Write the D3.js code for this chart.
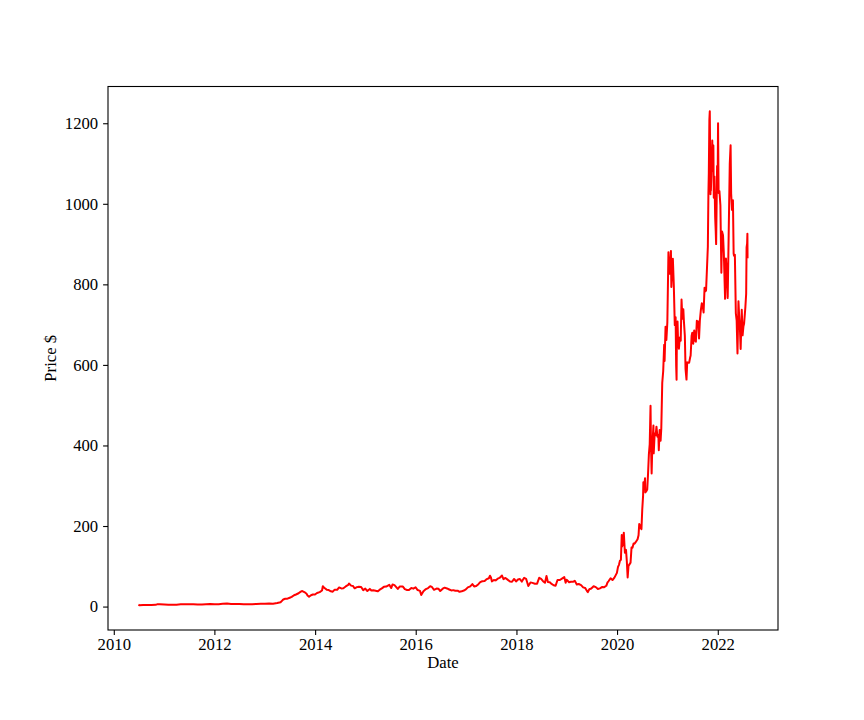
<!DOCTYPE html>
<html>
<head>
<meta charset="utf-8">
<script src="https://cdn.jsdelivr.net/npm/d3@7"></script>
<style>
  body { margin: 0; background: #fff; }
  svg text { font-family: "Liberation Serif", "Times New Roman", serif; }
</style>
</head>
<body>
<div id="chart"></div>
<script>
// closing prices (split-adjusted 5:1)
var dates = [
  "2010-06-29","2010-07-07","2010-08-02","2010-09-01","2010-10-01","2010-11-01","2010-11-15","2010-12-01",
  "2011-01-03","2011-02-01","2011-03-01","2011-04-01","2011-05-02","2011-06-01","2011-07-01","2011-08-01",
  "2011-09-01","2011-10-03","2011-11-01","2011-12-01","2012-01-03","2012-02-01","2012-03-01","2012-04-02",
  "2012-05-01","2012-06-01","2012-07-02","2012-08-01","2012-09-04","2012-10-01","2012-11-01","2012-12-03",
  "2013-01-02","2013-02-01","2013-03-01","2013-04-01","2013-04-25","2013-05-09","2013-05-15","2013-05-29",
  "2013-06-14","2013-07-01","2013-07-15","2013-08-01","2013-08-15","2013-09-03","2013-09-19","2013-09-30",
  "2013-10-15","2013-10-31","2013-11-07","2013-11-18","2013-12-02","2013-12-16","2013-12-31",
  "2014-01-15","2014-02-03","2014-02-20","2014-02-26","2014-03-10","2014-03-26","2014-04-10","2014-04-25",
  "2014-05-09","2014-05-23","2014-06-10","2014-06-24","2014-07-10","2014-07-25","2014-08-11","2014-08-29",
  "2014-09-04","2014-09-19","2014-10-03","2014-10-15","2014-10-31","2014-11-14","2014-12-01","2014-12-16",
  "2014-12-31","2015-01-15","2015-02-02","2015-02-13","2015-02-27","2015-03-16","2015-03-31","2015-04-15",
  "2015-04-30","2015-05-15","2015-06-01","2015-06-23","2015-07-07","2015-07-17","2015-07-31","2015-08-24",
  "2015-09-08","2015-09-30","2015-10-14","2015-10-30","2015-11-13","2015-11-30","2015-12-15","2015-12-31",
  "2016-01-15","2016-02-01","2016-02-10","2016-02-26","2016-03-15","2016-03-31","2016-04-15","2016-04-29",
  "2016-05-13","2016-05-31","2016-06-15","2016-06-27","2016-07-15","2016-07-29","2016-08-15","2016-08-31",
  "2016-09-15","2016-09-30","2016-10-14","2016-10-31","2016-11-14","2016-11-30","2016-12-15","2016-12-30",
  "2017-01-13","2017-01-31","2017-02-15","2017-02-28","2017-03-15","2017-03-31","2017-04-13","2017-04-28",
  "2017-05-15","2017-05-31","2017-06-15","2017-06-23","2017-06-30","2017-07-07","2017-07-21","2017-08-03",
  "2017-08-18","2017-08-31","2017-09-18","2017-09-29","2017-10-13","2017-10-31","2017-11-15","2017-11-30",
  "2017-12-15","2017-12-29","2018-01-12","2018-01-26","2018-02-09","2018-02-26","2018-03-12","2018-03-28",
  "2018-04-13","2018-04-27","2018-05-15","2018-05-31","2018-06-15","2018-06-29","2018-07-13","2018-07-27",
  "2018-08-07","2018-08-17","2018-08-31","2018-09-10","2018-09-28","2018-10-12","2018-10-26","2018-11-12",
  "2018-11-30","2018-12-14","2018-12-24","2018-12-31","2019-01-18","2019-01-31","2019-02-15","2019-02-28",
  "2019-03-15","2019-03-29","2019-04-15","2019-04-30","2019-05-15","2019-05-31","2019-06-03","2019-06-14",
  "2019-06-28","2019-07-15","2019-07-31","2019-08-15","2019-08-30","2019-09-16","2019-09-30","2019-10-15",
  "2019-10-24","2019-10-31","2019-11-15","2019-11-29","2019-12-13","2019-12-31",
  "2020-01-08","2020-01-15","2020-01-22","2020-01-29","2020-02-04","2020-02-07","2020-02-14","2020-02-19",
  "2020-02-27","2020-03-06","2020-03-12","2020-03-18","2020-03-24","2020-03-31","2020-04-08","2020-04-15",
  "2020-04-22","2020-04-30","2020-05-07","2020-05-15","2020-05-22","2020-05-29","2020-06-05","2020-06-10",
  "2020-06-18","2020-06-26","2020-07-02","2020-07-08","2020-07-10","2020-07-13","2020-07-17","2020-07-22",
  "2020-07-24","2020-07-31","2020-08-07","2020-08-13","2020-08-19","2020-08-25","2020-08-31","2020-09-03",
  "2020-09-08","2020-09-11","2020-09-17","2020-09-21","2020-09-23","2020-09-30","2020-10-07","2020-10-13",
  "2020-10-20","2020-10-27","2020-10-30","2020-11-05","2020-11-12","2020-11-17","2020-11-24","2020-12-01",
  "2020-12-08","2020-12-11","2020-12-18","2020-12-24","2020-12-31",
  "2021-01-08","2021-01-12","2021-01-15","2021-01-22","2021-01-26","2021-01-29","2021-02-05","2021-02-09",
  "2021-02-16","2021-02-23","2021-03-01","2021-03-05","2021-03-08","2021-03-10","2021-03-15","2021-03-19",
  "2021-03-25","2021-03-31","2021-04-07","2021-04-13","2021-04-19","2021-04-26","2021-04-30","2021-05-07",
  "2021-05-12","2021-05-19","2021-05-24","2021-06-01","2021-06-07","2021-06-14","2021-06-18","2021-06-25",
  "2021-06-30","2021-07-07","2021-07-14","2021-07-20","2021-07-26","2021-08-02","2021-08-06","2021-08-12",
  "2021-08-18","2021-08-24","2021-08-31","2021-09-07","2021-09-14","2021-09-20","2021-09-27","2021-10-04",
  "2021-10-08","2021-10-15","2021-10-21","2021-10-25","2021-10-28","2021-11-01","2021-11-04","2021-11-09",
  "2021-11-10","2021-11-12","2021-11-17","2021-11-22","2021-11-26","2021-11-30","2021-12-03","2021-12-08",
  "2021-12-13","2021-12-17","2021-12-20","2021-12-27","2021-12-31",
  "2022-01-03","2022-01-04","2022-01-07","2022-01-13","2022-01-20","2022-01-27","2022-02-01","2022-02-08",
  "2022-02-14","2022-02-23","2022-03-01","2022-03-08","2022-03-14","2022-03-21","2022-03-29","2022-04-04",
  "2022-04-08","2022-04-14","2022-04-21","2022-04-26","2022-04-29","2022-05-05","2022-05-12","2022-05-18",
  "2022-05-24","2022-05-31","2022-06-06","2022-06-10","2022-06-16","2022-06-24","2022-06-30","2022-07-06",
  "2022-07-11","2022-07-15","2022-07-20","2022-07-26","2022-07-29","2022-08-02","2022-08-04","2022-08-05"
];

var prices = [
  4.78,3.16,4.0,4.2,4.1,4.3,6.0,6.0,
  5.3,4.8,4.6,4.8,5.6,5.8,5.8,5.5,
  5.0,5.3,6.0,6.4,5.6,6.0,7.0,7.4,
  6.6,6.2,6.2,5.6,5.8,5.9,6.4,6.8,
  7.0,7.6,7.0,8.7,10.6,15.5,17.5,19.3,
  19.6,22.0,24.0,28.0,30.0,33.0,37.0,38.6,
  36.0,31.7,27.5,24.5,28.0,30.0,30.0,
  33.7,36.0,40.0,50.6,46.0,42.0,41.0,38.0,
  37.0,42.0,41.5,47.5,45.0,45.6,50.0,53.8,
  57.2,52.0,51.0,45.3,48.3,49.0,48.5,40.9,
  44.5,38.6,43.9,40.0,40.6,39.2,37.8,41.9,
  45.2,49.0,49.8,54.0,46.0,55.0,53.3,43.7,
  50.0,49.7,43.3,41.2,41.2,46.1,44.5,48.0,
  41.0,39.0,28.7,38.0,43.5,45.9,50.5,48.0,
  41.6,44.6,44.0,38.6,44.3,47.0,45.0,42.4,
  40.0,40.8,39.2,39.5,36.6,37.8,39.8,42.7,
  47.7,50.3,55.9,49.9,51.0,55.7,60.7,62.8,
  63.5,68.2,70.3,76.5,72.2,62.5,65.9,65.0,
  69.2,71.1,77.0,68.2,71.1,66.2,62.3,61.6,
  68.6,62.3,67.2,68.5,62.0,71.5,69.0,51.1,
  60.0,58.8,56.8,56.8,71.5,68.6,63.0,59.0,
  75.9,61.1,60.3,57.0,52.9,51.6,66.0,66.0,
  70.1,73.2,59.0,66.6,60.5,61.4,61.4,63.9,
  55.0,56.0,53.4,47.7,46.0,37.0,35.8,43.0,
  44.7,50.3,48.3,43.5,45.1,48.8,48.2,51.6,
  59.9,62.7,70.4,65.9,71.9,83.7,
  98.4,103.7,113.9,116.2,177.4,149.0,160.0,183.5,
  133.6,140.7,112.1,72.2,101.0,104.8,109.1,146.4,
  146.0,156.4,156.0,159.8,163.4,167.0,177.1,205.0,
  200.2,191.9,241.7,275.6,308.9,299.4,300.2,318.5,
  283.4,286.2,290.5,330.0,378.0,402.8,498.3,407.0,
  330.2,372.7,423.4,449.4,380.4,429.0,425.3,446.7,
  421.9,424.7,388.0,438.1,411.8,441.6,555.4,584.8,
  649.9,609.9,695.0,661.8,705.7,
  880.0,849.4,826.2,846.6,883.1,793.5,852.2,863.4,
  796.2,698.8,718.4,597.9,563.0,668.1,707.9,654.9,
  640.4,667.9,660.0,762.3,714.6,738.2,709.4,672.4,
  589.9,563.5,606.4,605.1,605.1,617.7,623.3,671.9,
  679.7,652.8,685.7,660.5,657.6,709.7,699.1,707.8,
  665.7,710.4,735.7,752.9,744.5,730.2,791.4,782.8,
  785.5,843.0,894.0,1024.9,1077.0,1208.6,1229.9,1023.5,
  1067.9,1033.4,1089.0,1156.9,1081.9,1144.8,1014.9,1068.0,
  966.4,932.6,899.9,1093.9,1056.8,
  1199.8,1149.6,1026.9,1031.6,996.3,829.1,931.3,922.0,
  875.8,764.0,864.4,824.4,766.4,921.2,1099.6,1145.5,
  1025.5,985.0,1008.8,876.4,870.8,873.3,728.0,709.8,
  628.2,758.3,714.8,696.7,639.3,737.1,673.4,695.2,
  703.0,720.2,742.5,776.6,891.5,901.8,925.9,864.5
];

var yTicks = [0, 200, 400, 600, 800, 1000, 1200];
var xTickYears = [2010, 2012, 2014, 2016, 2018, 2020, 2022];

var W = 864, H = 720;
var margin = {top: 86.5, right: 86, bottom: 90, left: 108};
var w = W - margin.left - margin.right;
var h = H - margin.top - margin.bottom;

var parse = d3.timeParse("%Y-%m-%d");
var data = dates.map(function(d, i) { return {date: parse(d), price: prices[i]}; });

var svg = d3.select("#chart").append("svg")
  .attr("width", W)
  .attr("height", H);

var g = svg.append("g")
  .attr("transform", "translate(" + margin.left + "," + margin.top + ")");

// matplotlib style 5% margins on both axes
var xExt = d3.extent(data, function(d) { return d.date; });
var xPad = (xExt[1] - xExt[0]) * 0.05;
var x = d3.scaleTime()
  .domain([new Date(+xExt[0] - xPad), new Date(+xExt[1] + xPad)])
  .range([0, w]);

var yExt = d3.extent(data, function(d) { return d.price; });
var yPad = (yExt[1] - yExt[0]) * 0.05;
var y = d3.scaleLinear()
  .domain([yExt[0] - yPad, yExt[1] + yPad])
  .range([h, 0]);

var line = d3.line()
  .x(function(d) { return x(d.date); })
  .y(function(d) { return y(d.price); });

g.append("path")
  .datum(data)
  .attr("fill", "none")
  .attr("stroke", "#ff0000")
  .attr("stroke-width", 2)
  .attr("stroke-linejoin", "round")
  .attr("d", line);

var xAxis = d3.axisBottom(x)
  .tickValues(xTickYears.map(function(yr) { return new Date(yr, 0, 1); }))
  .tickFormat(d3.timeFormat("%Y"))
  .tickSize(4.9)
  .tickPadding(3.5);

var yAxis = d3.axisLeft(y)
  .tickValues(yTicks)
  .tickFormat(d3.format("d"))
  .tickSize(4.9)
  .tickPadding(4.9);

var gx = g.append("g")
  .attr("transform", "translate(0," + h + ")")
  .call(xAxis);

var gy = g.append("g").call(yAxis);

[gx, gy].forEach(function(ax) {
  ax.select(".domain").remove();
  ax.selectAll(".tick line").attr("stroke", "#000").attr("stroke-width", 1.1);
  ax.selectAll(".tick text")
    .attr("fill", "#000")
    .style("font-size", "16.7px");
});

// axes frame
g.append("rect")
  .attr("width", w)
  .attr("height", h)
  .attr("fill", "none")
  .attr("stroke", "#000")
  .attr("stroke-width", 1.1);

g.append("text")
  .attr("x", w / 2)
  .attr("y", h + 38)
  .attr("text-anchor", "middle")
  .style("font-size", "16.7px")
  .text("Date");

g.append("text")
  .attr("transform", "translate(-52," + (h / 2) + ") rotate(-90)")
  .attr("text-anchor", "middle")
  .style("font-size", "16.7px")
  .text("Price $");
</script>
</body>
</html>
